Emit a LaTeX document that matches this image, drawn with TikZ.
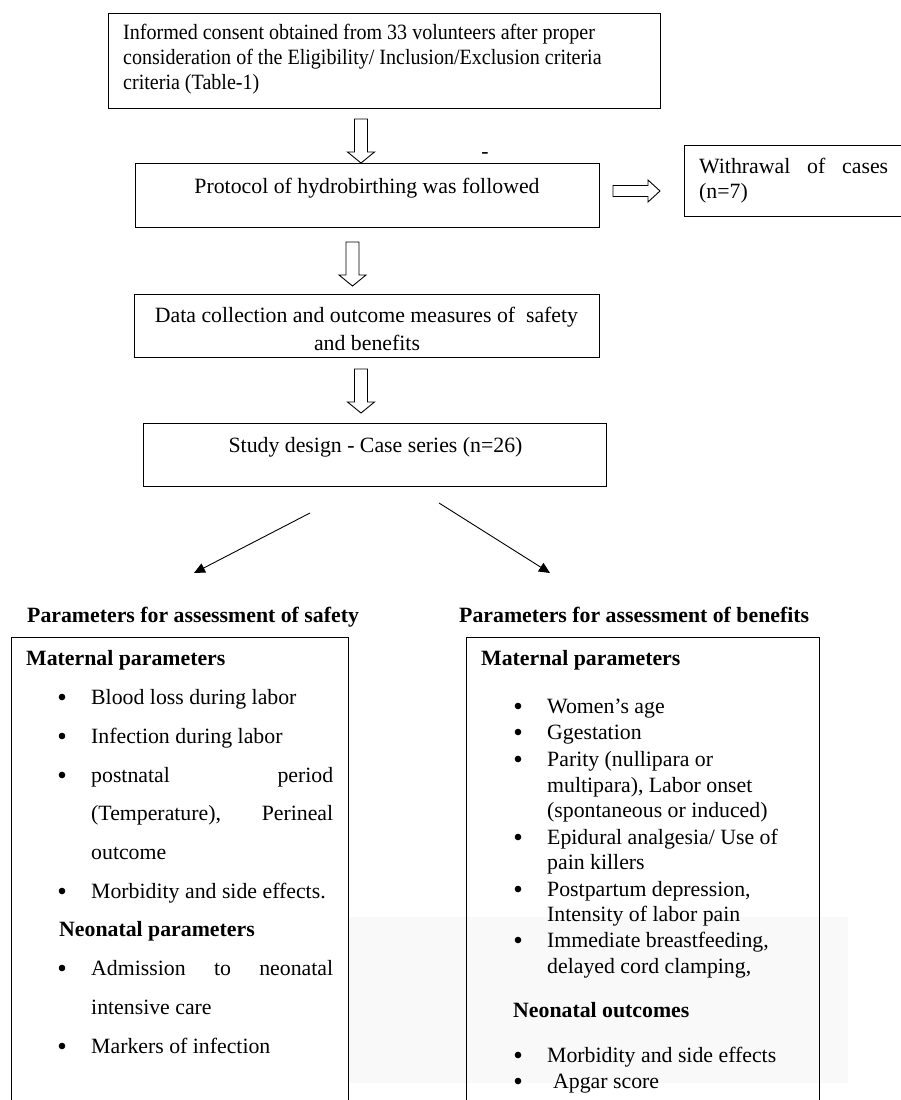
\documentclass[tikz,border=0pt]{standalone}
\usepackage{fontspec}
\setmainfont{Liberation Serif}
\usetikzlibrary{arrows.meta}
\newcommand\bsz{\fontsize{21.8pt}{25.8pt}\selectfont}
\newcommand\vblk[4]{\draw[blk] ({#1-6.5},#2) -- ({#1+6.5},#2) -- ({#1+6.5},#3) -- ({#1+13.5},#3) -- (#1,#4) -- ({#1-13.5},#3) -- ({#1-6.5},#3) -- cycle;}
\newcommand\hblk[4]{\draw[blk] (#1,{#4-5.5}) -- (#1,{#4+5.5}) -- (#3,{#4+5.5}) -- (#3,{#4+11}) -- (#2,#4) -- (#3,{#4-11}) -- (#3,{#4-5.5}) -- cycle;}
\begin{document}
\begin{tikzpicture}[x=1pt,y=-1pt,
  box/.style={draw, line width=1pt, inner sep=0pt, anchor=north west},
  tl/.style={anchor=base west, inner sep=0pt, font=\bsz},
  tn/.style={anchor=base west, inner sep=0pt, font=\bsz, xscale=0.92, transform shape},
  tc/.style={anchor=base, inner sep=0pt, font=\bsz},
  tb/.style={anchor=base west, inner sep=0pt, font=\bsz\bfseries},
  bul/.style={circle, fill=black, draw=none, inner sep=0pt, minimum size=6.6pt},
  blk/.style={draw, line width=0.9pt, fill=white, line join=miter},
  diag/.style={line width=0.9pt, -{Triangle[length=11pt,width=10pt]}},
]
\path[use as bounding box] (0,0) rectangle (901,1100);
\clip (0,0) rectangle (901,1100);
\fill[white] (0,0) rectangle (901,1100);
\fill[black!2.5] (348,917) rectangle (848,1083);

% boxes
\node[box, minimum width=552pt, minimum height=95pt] (b1) at (108,13) {};
\node[box, minimum width=464pt, minimum height=64pt] (b2) at (135,163) {};
\node[box, minimum width=240pt, minimum height=71pt] (b3) at (684,145) {};
\node[box, minimum width=465pt, minimum height=63pt] (b4) at (134,294) {};
\node[box, minimum width=463pt, minimum height=63pt] (b5) at (143,423) {};
\node[box, minimum width=337pt, minimum height=500pt] (b6) at (11,637) {};
\node[box, minimum width=353pt, minimum height=500pt] (b7) at (466,637) {};

% top texts
\node[tn] (t1a) at (123,39) {Informed consent obtained from 33 volunteers after proper};
\node[tn] (t1b) at (123,64) {consideration of the Eligibility/ Inclusion/Exclusion criteria};
\node[tn] (t1c) at (123,89) {criteria (Table-1)};
\node[tc] (t2) at (367,193) {Protocol of hydrobirthing was followed};
\node[tc] (dash) at (485,158) {-};
\node[tl] (t3a) at (699,173) {\hbox to 189pt{Withrawal\hfill of\hfill cases}};
\node[tl] (t3b) at (699,198) {(n=7)};
\node[tc] (t4a) at (366.5,322) {Data collection and outcome measures of \ safety};
\node[tc] (t4b) at (367,350) {and benefits};
\node[tc] (t5) at (375.5,452) {Study design - Case series (n=26)};

% block arrows
\vblk{361}{119}{152}{163}
\hblk{613}{660}{648}{191}
\vblk{352.5}{242}{275}{286}
\vblk{361}{369}{402}{413}

% diagonal arrows
\coordinate (d1s) at (310,513);
\coordinate (d1e) at (194,573);
\coordinate (d2s) at (439,503);
\coordinate (d2e) at (550,573);
\draw[diag] (d1s) -- (d1e);
\draw[diag] (d2s) -- (d2e);

% titles
\node[tb] (h1) at (27,622) {Parameters for assessment of safety};
\node[tb] (h2) at (459,622) {Parameters for assessment of benefits};

% left box
\node[tb] (l0) at (26,665) {Maternal parameters};
\node[tl] (l1) at (91,704) {Blood loss during labor};
\node[tl] (l2) at (91,743) {Infection during labor};
\node[tl] (l3a) at (91,782) {\hbox to 242pt{postnatal\hfill period}};
\node[tl] (l3b) at (91,820) {\hbox to 242pt{(Temperature),\hfill Perineal}};
\node[tl] (l3c) at (91,859) {outcome};
\node[tl] (l4) at (91,898) {Morbidity and side effects.};
\node[tb] (l5) at (59,936) {Neonatal parameters};
\node[tl] (l6a) at (91,975) {\hbox to 242pt{Admission\hfill to\hfill neonatal}};
\node[tl] (l6b) at (91,1014) {intensive care};
\node[tl] (l7) at (91,1053) {Markers of infection};
\foreach \yy [count=\i] in {704,743,782,898,975,1053}
  \node[bul] (lb\i) at (62,\yy-7) {};

% right box
\node[tb] (r0) at (481,665) {Maternal parameters};
\node[tl] (r1) at (547,713) {Women’s age};
\node[tl] (r2) at (547,739) {Ggestation};
\node[tl] (r3a) at (547,766) {Parity (nullipara or};
\node[tl] (r3b) at (547,792) {multipara), Labor onset};
\node[tl] (r3c) at (547,817) {(spontaneous or induced)};
\node[tl] (r4a) at (547,844) {Epidural analgesia/ Use of};
\node[tl] (r4b) at (547,869) {pain killers};
\node[tl] (r5a) at (547,896) {Postpartum depression,};
\node[tl] (r5b) at (547,921) {Intensity of labor pain};
\node[tl] (r6a) at (547,947) {Immediate breastfeeding,};
\node[tl] (r6b) at (547,973) {delayed cord clamping,};
\node[tb] (r7) at (513,1017) {Neonatal outcomes};
\node[tl] (r8) at (547,1062) {Morbidity and side effects};
\node[tl] (r9) at (553,1088) {Apgar score};
\foreach \yy [count=\i] in {713,739,766,844,896,947,1062,1088}
  \node[bul] (rb\i) at (518,\yy-7) {};
\end{tikzpicture}
\end{document}
